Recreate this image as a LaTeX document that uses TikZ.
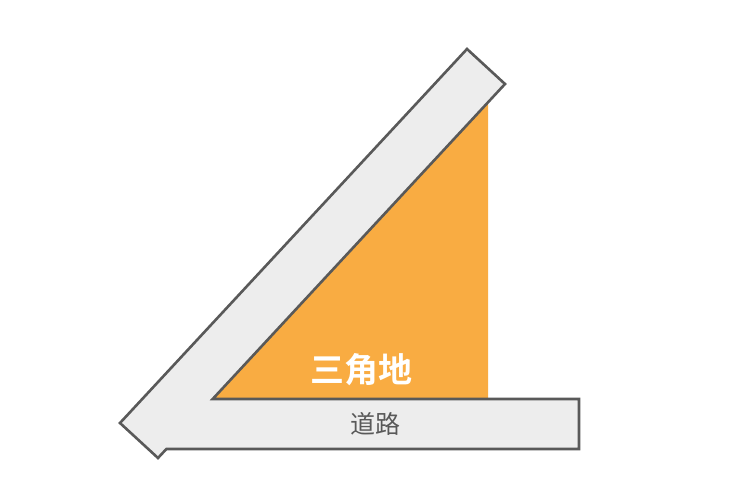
\documentclass[tikz,border=0pt]{standalone}
\usepackage{fontspec}
\usepackage{tikz}
\newfontfamily\cjk{Noto Sans CJK SC}
\newfontfamily\cjkbold{Noto Sans CJK SC Bold}
\definecolor{plot}{HTML}{F9AC42}
\definecolor{road}{HTML}{EDEDED}
\definecolor{edge}{HTML}{595959}

\begin{document}
\begin{tikzpicture}[x=1pt, y=-1pt]
    \useasboundingbox (0, 0) rectangle (740, 495);
    % triangle plot
    \fill [plot]     (212.7, 399) -- (488, 399) -- (488, 102) -- cycle;
    % roads
    \draw [fill=road, draw=edge, line width=2.6pt, line join=miter]
                     (120, 423) -- (467, 49) -- (505, 84) -- (212.7, 399)
                     -- (579, 399) -- (579, 449) -- (166.4, 449) -- (158, 458) -- cycle;
    % labels
    \node [text=white] (plotlabel) at (361, 370) {\cjkbold\fontsize{34}{34}\selectfont 三角地};
    \node [text=edge]  (roadlabel) at (375, 424) {\cjk\fontsize{25}{25}\selectfont 道路};
  \end{tikzpicture}
\end{document}
